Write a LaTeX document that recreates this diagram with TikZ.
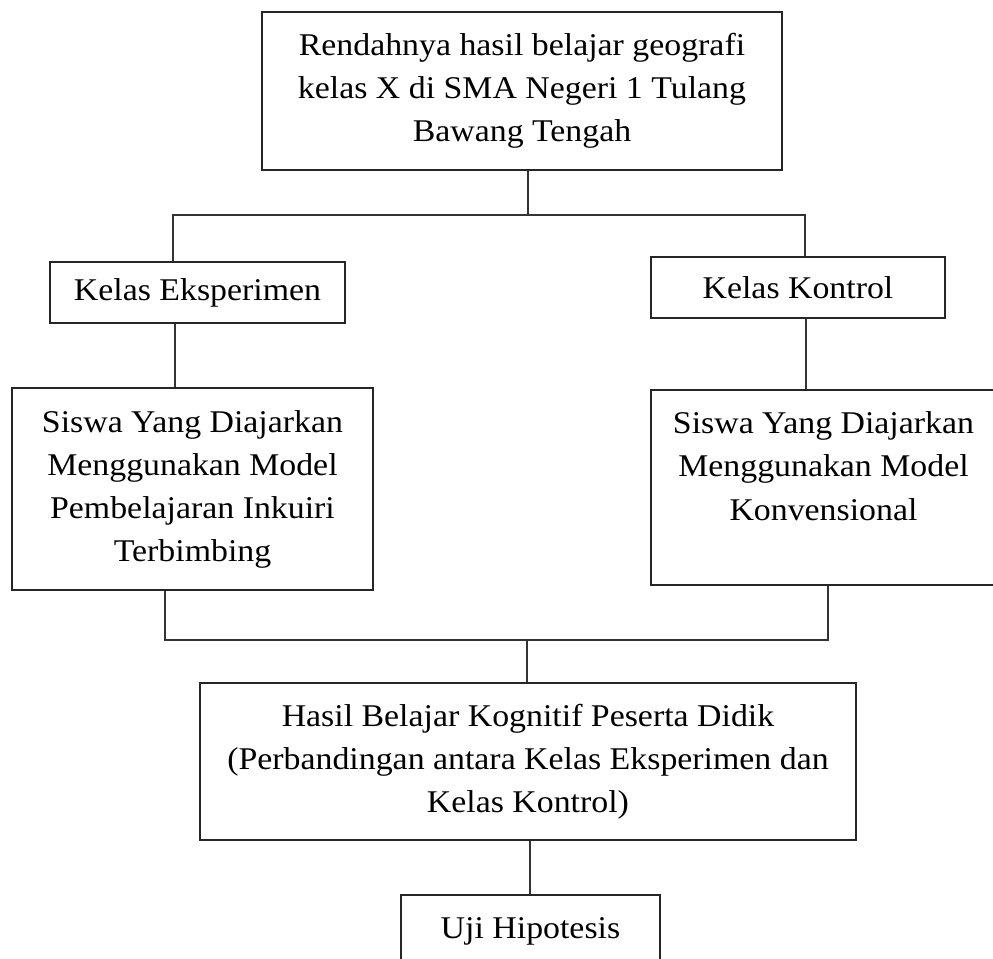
\documentclass[tikz,border=0pt]{standalone}
\usepackage{fontspec}
\setmainfont[FakeStretch=1.07]{Liberation Serif}
\begin{document}
\begin{tikzpicture}[x=0.02cm,y=-0.02cm,
  box/.style={draw=black!85, line width=1.1pt, inner sep=0pt, align=center,
    font=\fontsize{18}{24.5}\selectfont},
  link/.style={draw=black!80, line width=0.9pt}]
\useasboundingbox (0,0) rectangle (993,958);
\node[box, minimum width=520*0.02cm, minimum height=158*0.02cm] (top) at (522,91)
  {Rendahnya hasil belajar geografi\\kelas X di SMA Negeri 1 Tulang\\Bawang Tengah};
\node[box, minimum width=295*0.02cm, minimum height=61*0.02cm] (ke) at (197.5,292.5) {Kelas Eksperimen};
\node[box, minimum width=294*0.02cm, minimum height=61*0.02cm] (kk) at (798,287.5) {Kelas Kontrol};
\node[box, minimum width=361*0.02cm, minimum height=202*0.02cm] (sl) at (192.5,489)
  {Siswa Yang Diajarkan\\Menggunakan Model\\Pembelajaran Inkuiri\\Terbimbing};
\node[box, minimum width=345*0.02cm, minimum height=195*0.02cm] (sr) at (823.5,487.5)
  {Siswa Yang Diajarkan\\Menggunakan Model\\Konvensional\\\mbox{}};
\node[box, minimum width=656*0.02cm, minimum height=157*0.02cm] (hb) at (528,761.5)
  {Hasil Belajar Kognitif Peserta Didik\\(Perbandingan antara Kelas Eksperimen dan\\Kelas Kontrol)};
\node[box, minimum width=259*0.02cm, minimum height=72*0.02cm] (uj) at (530.5,931) {Uji Hipotesis};
\coordinate (s1) at (528,215);
\coordinate (s1l) at (173,215);
\coordinate (s1r) at (805,215);
\coordinate (c1) at (175,0);
\coordinate (c2) at (806,0);
\coordinate (m1) at (527,640);
\coordinate (m1l) at (165,640);
\coordinate (m1r) at (828,640);
\coordinate (c3) at (530,0);
\draw[link] (top.south -| s1) -- (s1);
\draw[link] (s1l |- ke.north) -- (s1l) -- (s1r) -- (s1r |- kk.north);
\draw[link] (ke.south -| c1) -- (sl.north -| c1);
\draw[link] (kk.south -| c2) -- (sr.north -| c2);
\draw[link] (sl.south -| m1l) -- (m1l) -- (m1r) -- (sr.south -| m1r);
\draw[link] (m1) -- (hb.north -| m1);
\draw[link] (hb.south -| c3) -- (uj.north -| c3);
\end{tikzpicture}
\end{document}
